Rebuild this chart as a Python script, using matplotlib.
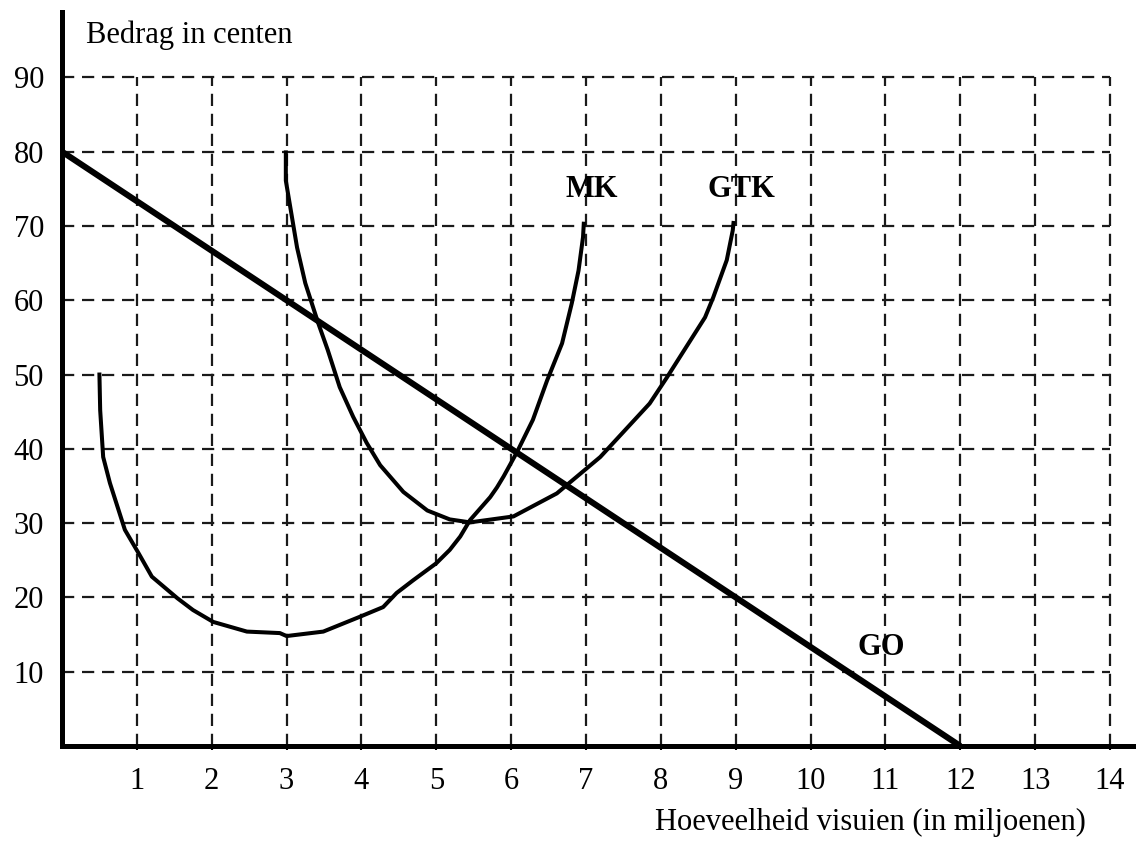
import matplotlib
matplotlib.use("Agg")
import matplotlib.pyplot as plt

# ---- data ----
x_ticks = list(range(1, 15))
y_ticks = list(range(10, 100, 10))

go_x = [0, 12]
go_y = [80, 0]

mk_x = [0.50, 0.51, 0.55, 0.64, 0.84, 1.02, 1.20, 1.54, 1.75, 2.02, 2.47, 2.91, 3.00,
        3.49, 3.98, 4.29, 4.47, 4.69, 5.00, 5.18, 5.32, 5.45, 5.72, 5.81, 5.90, 6.08,
        6.29, 6.48, 6.68, 6.81, 6.90, 6.96, 6.97]
mk_y = [50.0, 45.2, 38.9, 35.4, 29.1, 26.0, 22.8, 19.9, 18.3, 16.7, 15.4, 15.2, 14.8,
        15.4, 17.4, 18.7, 20.6, 22.3, 24.6, 26.4, 28.2, 30.4, 33.5, 34.8, 36.3, 39.6,
        43.9, 49.2, 54.2, 59.6, 64.0, 68.5, 70.3]

gtk_x = [2.99, 2.99, 3.05, 3.14, 3.25, 3.42, 3.55, 3.71, 3.89, 4.07, 4.25, 4.56, 4.88,
         5.18, 5.45, 6.03, 6.61, 7.19, 7.85, 8.08, 8.59, 8.70, 8.88, 8.96, 8.97]
gtk_y = [79.9, 76.1, 72.5, 67.1, 62.3, 57.0, 53.3, 48.3, 44.3, 40.8, 37.8, 34.2, 31.7,
         30.5, 30.1, 30.9, 34.0, 38.9, 46.1, 49.6, 57.7, 60.4, 65.4, 69.4, 70.4]

curve_labels = ["MK", "GTK", "GO"]
label_pos = [(7.07, 74.9), (9.07, 74.9), (10.94, 13.3)]

y_title = "Bedrag in centen"
x_title = "Hoeveelheid visuien (in miljoenen)"

# ---- figure ----
W, H = 1136, 844
fig = plt.figure(figsize=(W / 100, H / 100), dpi=100)
x0_px, x1_px = 62, 1132.5
y0_px, y1_px = 746, 12
ax = fig.add_axes([x0_px / W, (H - y0_px) / H, (x1_px - x0_px) / W, (y0_px - y1_px) / H])
ax.set_xlim(0, 14.3)
ax.set_ylim(0, 98.8)

serif = ["Liberation Serif", "DejaVu Serif"]
fs = 22

# grid
ax.hlines(y_ticks, 0, max(x_ticks), colors="#1a1a1a", linewidth=1.6,
          linestyles=(0, (5.5, 3.5)), zorder=1)
ax.vlines(x_ticks, 0, max(y_ticks), colors="#1a1a1a", linewidth=1.6,
          linestyles=(0, (5.5, 3.5)), zorder=1)

# curves
ax.plot(go_x, go_y, color="black", linewidth=4.4, solid_capstyle="butt", zorder=3)
ax.plot(mk_x, mk_y, color="black", linewidth=2.9, zorder=3)
ax.plot(gtk_x, gtk_y, color="black", linewidth=2.9, zorder=3)

for lab, (lx, ly) in zip(curve_labels, label_pos):
    ax.text(lx, ly, lab, family=serif, fontsize=fs, fontweight="bold",
            ha="center", va="center", zorder=4)

# spines
for s in ["top", "right"]:
    ax.spines[s].set_visible(False)
for s in ["left", "bottom"]:
    ax.spines[s].set_linewidth(3.6)
    ax.spines[s].set_zorder(5)

ax.set_xticks(x_ticks)
ax.set_xticklabels([str(v) for v in x_ticks], family=serif, fontsize=fs)
ax.set_yticks(y_ticks)
ax.set_yticklabels([str(v) for v in y_ticks], family=serif, fontsize=fs)
ax.tick_params(axis="x", length=3, width=1.5, pad=12, direction="out")
ax.tick_params(axis="y", length=0, pad=13)

ax.text(0.32, 94.6, y_title, family=serif, fontsize=fs, ha="left", va="baseline")
fig.text(655 / W, (H - 830) / H, x_title, family=serif, fontsize=fs,
         ha="left", va="baseline")

fig.savefig("out.png", dpi=100)
